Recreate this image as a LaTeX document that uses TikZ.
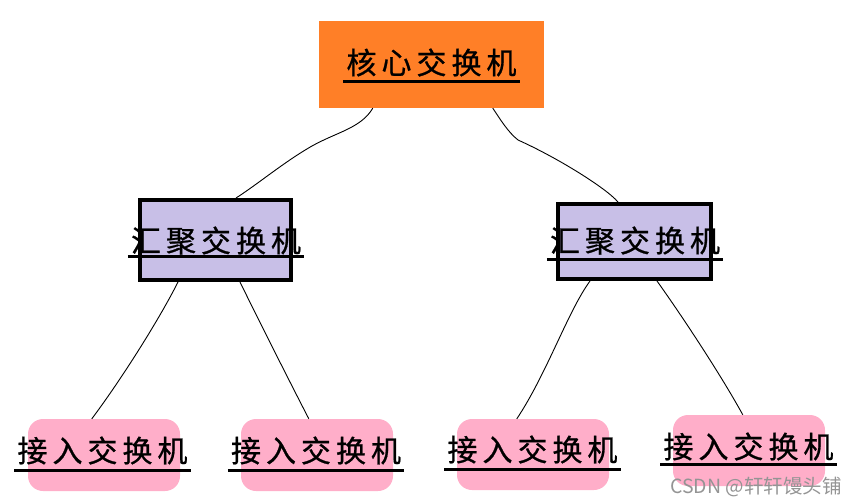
\documentclass[tikz,border=0pt]{standalone}
\usepackage{fontspec}
\newfontfamily\cjk{Noto Sans CJK SC}
\newfontfamily\cjkm{Noto Sans CJK SC}[FakeBold=0.8]
\usetikzlibrary{calc}
\definecolor{coreorange}{RGB}{255,127,39}
\definecolor{midlav}{RGB}{200,191,231}
\definecolor{accpink}{RGB}{255,174,201}
\newcommand{\gp}{\hspace{5pt}}
\tikzset{
  corebox/.style={rectangle, fill=coreorange, draw=none, inner sep=0pt},
  midbox/.style={rectangle, fill=midlav, draw=black, line width=4pt, inner sep=0pt},
  accbox/.style={rectangle, rounded corners=15pt, fill=accpink, draw=none, inner sep=0pt},
  lbl/.style={font=\cjkm\fontsize{30}{30}\selectfont, inner sep=0pt, anchor=base},
  uline/.style={line width=3pt, black},
  link/.style={line width=0.9pt, black},
  wmark/.style={font=\cjk\fontsize{19.5}{19.5}\selectfont, text=black!42, inner sep=0pt, anchor=base east}
}
\begin{document}
\begin{tikzpicture}[x=1pt,y=-1pt]
\useasboundingbox (0,0) rectangle (856,503);
% boxes
\node[corebox, minimum width=225pt, minimum height=87pt] (core) at (431.5,64.5) {};
\node[midbox, minimum width=151pt, minimum height=80pt] (midL) at (215.5,240) {};
\node[midbox, minimum width=153pt, minimum height=75pt] (midR) at (634.5,241.5) {};
\node[accbox, minimum width=152pt, minimum height=72pt] (accA) at (104,455) {};
\node[accbox, minimum width=152pt, minimum height=72pt] (accB) at (317,455) {};
\node[accbox, minimum width=152pt, minimum height=71pt] (accC) at (533,454.5) {};
\node[accbox, minimum width=152pt, minimum height=71pt] (accD) at (749,450.5) {};
% labels
\node[lbl] (tcore) at (431.5,74) {核\gp 心\gp 交\gp 换\gp 机};
\node[lbl] (tmidL) at (216,252) {汇\gp 聚\gp 交\gp 换\gp 机};
\node[lbl] (tmidR) at (635,252) {汇\gp 聚\gp 交\gp 换\gp 机};
\node[lbl] (taccA) at (102.5,462) {接\gp 入\gp 交\gp 换\gp 机};
\node[lbl] (taccB) at (316,462) {接\gp 入\gp 交\gp 换\gp 机};
\node[lbl] (taccC) at (532.5,461) {接\gp 入\gp 交\gp 换\gp 机};
\node[lbl] (taccD) at (748.5,458) {接\gp 入\gp 交\gp 换\gp 机};
% underlines
\draw[uline] ([xshift=-3pt,yshift=-7pt]tcore.base west) -- ([xshift=3pt,yshift=-7pt]tcore.base east);
\draw[uline] ([xshift=-3pt,yshift=-4pt]tmidL.base west) -- ([xshift=3pt,yshift=-4pt]tmidL.base east);
\draw[uline] ([xshift=-3pt,yshift=-7pt]tmidR.base west) -- ([xshift=3pt,yshift=-7pt]tmidR.base east);
\draw[uline] ([xshift=-3pt,yshift=-8pt]taccA.base west) -- ([xshift=3pt,yshift=-8pt]taccA.base east);
\draw[uline] ([xshift=-3pt,yshift=-8pt]taccB.base west) -- ([xshift=3pt,yshift=-8pt]taccB.base east);
\draw[uline] ([xshift=-3pt,yshift=-8pt]taccC.base west) -- ([xshift=3pt,yshift=-8pt]taccC.base east);
\draw[uline] ([xshift=-3pt,yshift=-6pt]taccD.base west) -- ([xshift=3pt,yshift=-6pt]taccD.base east);
% connectors
\draw[link] ([xshift=54pt]core.south west) .. controls +(-12,20) and +(25,-14) .. (312,146)
  .. controls +(-28,16) and +(22,-14) .. ([xshift=98pt]midL.north west);
\draw[link] ([xshift=174pt]core.south west) .. controls +(8,12) and +(-10,-8) .. (518,140)
  .. controls +(40,18) and +(-12,-14) .. ([xshift=62pt]midR.north west);
\draw[link] ([xshift=40pt]midL.south west) .. controls +(-18,36) and +(30,-40) .. ([xshift=64pt]accA.north west);
\draw[link] ([xshift=102pt]midL.south west) .. controls +(22,45) and +(-18,-35) .. ([xshift=68pt]accB.north west);
\draw[link] ([xshift=34pt]midR.south west) .. controls +(-22,30) and +(30,-45) .. ([xshift=60pt]accC.north west);
\draw[link] ([xshift=101pt]midR.south west) .. controls +(25,35) and +(-22,-40) .. ([xshift=70pt]accD.north west);
% watermark
\node[wmark] (wm) at (842,493) {CSDN @轩轩馒头铺};
\end{tikzpicture}
\end{document}
